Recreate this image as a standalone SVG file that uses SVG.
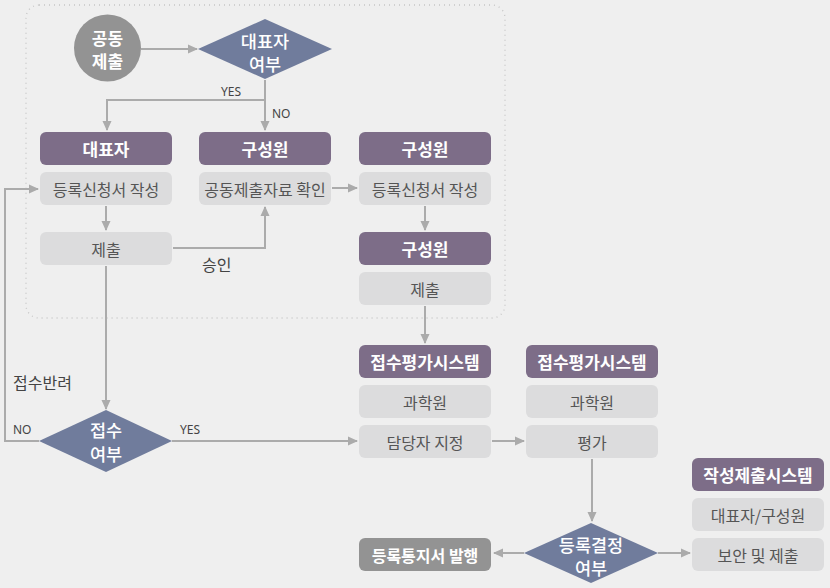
<svg xmlns="http://www.w3.org/2000/svg" width="830" height="588" viewBox="0 0 830 588">
<defs>
<marker id="ah" markerWidth="10" markerHeight="10" refX="9" refY="5" orient="auto" markerUnits="userSpaceOnUse">
<path d="M0,0.5 L10,5 L0,9.5 Z" fill="#ababab"/>
</marker>
<style>
text{font-family:"Noto Sans CJK KR","Noto Sans",sans-serif;text-anchor:middle;dominant-baseline:central}
.hd{fill:#7d6d88}
.hdt{fill:#fff;font-size:17px;font-weight:bold}
.bx{fill:#dcdcdd}
.bxt{fill:#555;font-size:16px}
.dm{fill:#707c9c}
.dmt{fill:#fff;font-size:17.5px;font-weight:500}
.ln{fill:none;stroke:#ababab;stroke-width:2;marker-end:url(#ah)}
.lb{fill:#444;font-family:"Noto Sans","Liberation Sans",sans-serif;font-size:12px;text-anchor:start}
.lbk{fill:#444;font-size:16px;text-anchor:start}
</style>
</defs>
<rect width="830" height="588" fill="#efefef"/>
<rect x="26" y="5" width="479" height="313" rx="13" fill="none" stroke="#c6c6c6" stroke-width="1.3" stroke-dasharray="1 4"/>

<g id="connectors">
<path class="ln" d="M141,49 H197"/>
<path class="ln" d="M265,80 V130"/>
<path class="ln" d="M265,100 H107 V130"/>
<path class="ln" d="M106,206 V230"/>
<path class="ln" d="M173,248 H265 V207"/>
<path class="ln" d="M332,188 H357"/>
<path class="ln" d="M425,206 V230"/>
<path class="ln" d="M425,306 V343"/>
<path class="ln" d="M106,266 V409"/>
<path class="ln" d="M39,441 H5 V189 H38"/>
<path class="ln" d="M172,441 H357"/>
<path class="ln" d="M492,441 H524"/>
<path class="ln" d="M592,459 V521"/>
<path class="ln" d="M524,553 H494"/>
<path class="ln" d="M658,553 H690"/>
<text class="lb" x="221" y="91">YES</text>
<text class="lb" x="272" y="113">NO</text>
<text class="lbk" x="202" y="264">승인</text>
<text class="lbk" x="13" y="382">접수반려</text>
<text class="lb" x="13" y="429">NO</text>
<text class="lb" x="180" y="429">YES</text>
</g>

<g id="n-joint"><circle cx="107.5" cy="48" r="33.5" fill="#939393"/><text class="dmt" x="107.5" y="37" style="font-weight:bold;font-size:17px">공동</text><text class="dmt" x="107.5" y="60" style="font-weight:bold;font-size:17px">제출</text></g>
<g id="n-rep-q"><path class="dm" d="M198,49 L265,19 L332,49 L265,79 Z"/><text class="dmt" x="265" y="40">대표자</text><text class="dmt" x="265" y="63">여부</text></g>

<g id="n-rep-h"><rect class="hd" x="40" y="132" width="132" height="33" rx="6"/><text class="hdt" x="106" y="148.5">대표자</text></g>
<g id="n-rep-write"><rect class="bx" x="40" y="172" width="132" height="33" rx="6"/><text class="bxt" x="106" y="188.5">등록신청서 작성</text></g>
<g id="n-rep-submit"><rect class="bx" x="40" y="232" width="132" height="33" rx="6"/><text class="bxt" x="106" y="248.5">제출</text></g>

<g id="n-mem-h1"><rect class="hd" x="199" y="132" width="132" height="33" rx="6"/><text class="hdt" x="265" y="148.5">구성원</text></g>
<g id="n-mem-check"><rect class="bx" x="199" y="172" width="132" height="33" rx="6"/><text class="bxt" x="265" y="188.5">공동제출자료 확인</text></g>

<g id="n-mem-h2"><rect class="hd" x="359" y="132" width="132" height="33" rx="6"/><text class="hdt" x="425" y="148.5">구성원</text></g>
<g id="n-mem-write"><rect class="bx" x="359" y="172" width="132" height="33" rx="6"/><text class="bxt" x="425" y="188.5">등록신청서 작성</text></g>
<g id="n-mem-h3"><rect class="hd" x="359" y="232" width="132" height="33" rx="6"/><text class="hdt" x="425" y="248.5">구성원</text></g>
<g id="n-mem-submit"><rect class="bx" x="359" y="272" width="132" height="33" rx="6"/><text class="bxt" x="425" y="288.5">제출</text></g>

<g id="n-recv-q"><path class="dm" d="M39,441 L106,410 L172,441 L106,472 Z"/><text class="dmt" x="106" y="429">접수</text><text class="dmt" x="106" y="453">여부</text></g>

<g id="n-sys1-h"><rect class="hd" x="359" y="345" width="132" height="33" rx="6"/><text class="hdt" x="425" y="361.5">접수평가시스템</text></g>
<g id="n-sys1-org"><rect class="bx" x="359" y="385" width="132" height="33" rx="6"/><text class="bxt" x="425" y="401.5">과학원</text></g>
<g id="n-assign"><rect class="bx" x="359" y="425" width="132" height="33" rx="6"/><text class="bxt" x="425" y="441.5">담당자 지정</text></g>

<g id="n-sys2-h"><rect class="hd" x="526" y="345" width="132" height="33" rx="6"/><text class="hdt" x="592" y="361.5">접수평가시스템</text></g>
<g id="n-sys2-org"><rect class="bx" x="526" y="385" width="132" height="33" rx="6"/><text class="bxt" x="592" y="401.5">과학원</text></g>
<g id="n-eval"><rect class="bx" x="526" y="425" width="132" height="33" rx="6"/><text class="bxt" x="592" y="441.5">평가</text></g>

<g id="n-decide"><path class="dm" d="M524,553 L591,523 L658,553 L591,583 Z"/><text class="dmt" x="591" y="544">등록결정</text><text class="dmt" x="591" y="567">여부</text></g>
<g id="n-notice"><rect x="359" y="538" width="132" height="33" rx="6" fill="#939393"/><text class="hdt" x="425" y="554.5" style="font-size:16px">등록통지서 발행</text></g>

<g id="n-sys3-h"><rect class="hd" x="692" y="458" width="132" height="33" rx="6"/><text class="hdt" x="758" y="474.5">작성제출시스템</text></g>
<g id="n-sys3-who"><rect class="bx" x="692" y="498" width="132" height="33" rx="6"/><text class="bxt" x="758" y="514.5">대표자/구성원</text></g>
<g id="n-sys3-do"><rect class="bx" x="692" y="538" width="132" height="33" rx="6"/><text class="bxt" x="758" y="554.5">보안 및 제출</text></g>
</svg>
